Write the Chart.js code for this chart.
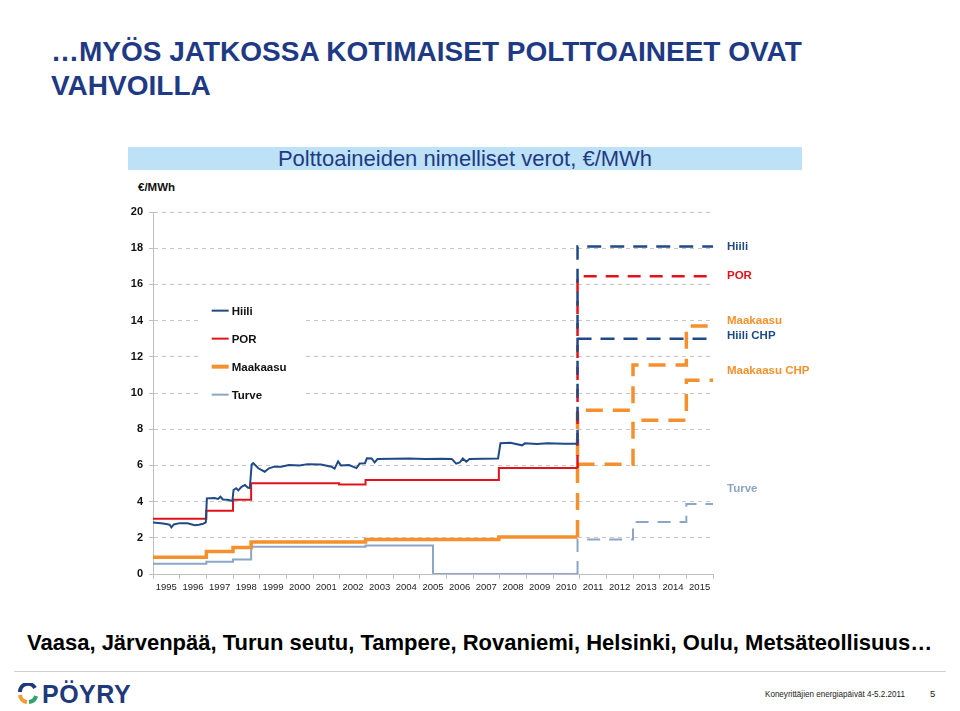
<!DOCTYPE html>
<html>
<head>
<meta charset="utf-8">
<script src="https://cdn.jsdelivr.net/npm/chart.js@4.4.1/dist/chart.umd.min.js"></script>
<style>
  body { margin: 0; width: 960px; height: 711px; background: #fff; position: relative; overflow: hidden;
         font-family: "Liberation Sans", Arial, sans-serif; }
  .title { position: absolute; left: 51px; top: 35px; font-size: 28px; font-weight: bold; color: #1F3A84; line-height: 34px; }
  .boxtitle { position: absolute; left: 128px; top: 147px; width: 674px; height: 23px; background: #BDE1F7;
              color: #1F3A84; font-size: 22px; text-align: center; line-height: 24px; }
  .unit { position: absolute; left: 138px; top: 181px; font-size: 11.5px; font-weight: bold; color: #111; }
  #wrap { position: absolute; left: 100px; top: 195px; width: 740px; height: 420px; }
  .cities { position: absolute; left: 27px; top: 630px; font-size: 22px; font-weight: bold; color: #000; white-space: nowrap; }
  .rule { position: absolute; left: 14px; top: 671px; width: 932px; height: 1px; background: #d0d0d0; }
  .logo { position: absolute; left: 17px; top: 683px; }
  .logotext { position: absolute; left: 42px; top: 680px; font-size: 25px; font-weight: bold; color: #1F3A7A; letter-spacing: 0.5px; }
  .foot { position: absolute; left: 765px; top: 688px; font-size: 9.5px; color: #222; white-space: nowrap;
          transform: scaleX(0.85); transform-origin: left top; }
  .page { position: absolute; left: 930px; top: 688px; font-size: 9.5px; color: #222; }
</style>
</head>
<body>
<div class="title">…MYÖS JATKOSSA KOTIMAISET POLTTOAINEET OVAT<br>VAHVOILLA</div>
<div class="boxtitle">Polttoaineiden nimelliset verot, €/MWh</div>
<div class="unit">€/MWh</div>
<div id="wrap"><canvas id="myChart"></canvas></div>
<div class="cities">Vaasa, Järvenpää, Turun seutu, Tampere, Rovaniemi, Helsinki, Oulu, Metsäteollisuus…</div>
<div class="rule"></div>
<svg class="logo" width="22" height="22" viewBox="0 0 22 22">
  <path d="M18 5 A8 8 0 0 0 3 9" stroke="#1F3A7A" stroke-width="4" fill="none"/>
  <path d="M3 12 A8 8 0 0 0 10 19" stroke="#F39C32" stroke-width="4" fill="none"/>
  <path d="M12 19 A8 8 0 0 0 19 13" stroke="#2FA36B" stroke-width="4" fill="none"/>
</svg>
<div class="logotext">PÖYRY</div>
<div class="foot">Koneyrittäjien energiapäivät 4-5.2.2011</div>
<div class="page">5</div>

<script>
// history, weekly-ish readings of the coal tax (Hiili)
const hiiliYears = [1995.00, 1995.30, 1995.50, 1995.62, 1995.69, 1995.78, 1996.00, 1996.30, 1996.56, 1996.72, 1996.88, 1996.98,
  1997.02, 1997.30, 1997.44, 1997.53, 1997.62, 1997.80, 1997.94, 1997.98,
  1998.02, 1998.12, 1998.20, 1998.32, 1998.45, 1998.55, 1998.63,
  1998.70, 1998.76, 1998.95, 1999.19, 1999.35, 1999.55, 1999.80, 2000.10, 2000.50, 2000.80, 2001.30, 2001.69, 2001.81, 2001.94,
  2002.05, 2002.35, 2002.63, 2002.75, 2002.95, 2003.02, 2003.20, 2003.31, 2003.42, 2004.00, 2004.60, 2005.20, 2005.80,
  2006.20, 2006.37, 2006.50, 2006.62, 2006.75, 2006.87, 2007.40, 2007.94,
  2008.03, 2008.40, 2008.84, 2008.95, 2009.40, 2009.80, 2010.40, 2010.92];
const hiiliValues = [2.84, 2.80, 2.76, 2.72, 2.58, 2.74, 2.81, 2.80, 2.70, 2.72, 2.78, 2.85,
  4.18, 4.20, 4.15, 4.27, 4.12, 4.10, 4.05, 4.05,
  4.64, 4.74, 4.62, 4.82, 4.92, 4.78, 4.75,
  6.05, 6.13, 5.84, 5.65, 5.84, 5.93, 5.92, 6.02, 6.00, 6.07, 6.05, 5.93, 5.82, 6.22,
  6.00, 6.02, 5.85, 6.10, 6.12, 6.39, 6.38, 6.16, 6.35, 6.37, 6.38, 6.36, 6.37,
  6.36, 6.10, 6.16, 6.38, 6.20, 6.35, 6.37, 6.38,
  7.22, 7.25, 7.11, 7.22, 7.18, 7.22, 7.20, 7.20];

// step series (value holds from the given year on)
const porYears = [1995, 1997.0, 1998.0, 1998.68, 2001.98, 2002.97, 2007.97, 2010.92];
const porValues = [3.05, 3.5, 4.1, 5.02, 4.95, 5.19, 5.85, 5.85];
const maakaasuYears = [1995, 1997.0, 1998.0, 1998.68, 2002.97, 2007.97, 2010.92];
const maakaasuValues = [0.93, 1.25, 1.47, 1.77, 1.9, 2.05, 2.05];
const turveYears = [1995, 1997.0, 1998.0, 1998.68, 2002.97, 2005.5, 2010.92];
const turveValues = [0.56, 0.67, 0.8, 1.5, 1.58, 0, 0];

// projections from 2011
const hiiliProjYears = [2010.92, 2010.92, 2016];
const hiiliProjValues = [7.2, 18.1, 18.1];
const hiiliChpYears = [2010.92, 2016];
const hiiliChpValues = [13.0, 13.0];
const porProjYears = [2010.92, 2010.92, 2016];
const porProjValues = [5.85, 16.45, 16.45];
const maakaasuProjYears = [2010.92, 2010.92, 2013, 2015, 2016];
const maakaasuProjValues = [2.05, 9.05, 11.55, 13.7, 13.7];
const maakaasuChpYears = [2010.92, 2013, 2015, 2016];
const maakaasuChpValues = [6.06, 8.5, 10.7, 10.7];
const turveProjYears = [2010.92, 2010.92, 2013, 2015, 2016];
const turveProjValues = [0, 1.9, 2.87, 3.87, 3.87];

const legendItems = ['Hiili', 'POR', 'Maakaasu', 'Turve'];
const endLabels = ['Hiili', 'POR', 'Maakaasu', 'Hiili CHP', 'Maakaasu CHP', 'Turve'];
const endLabelValues = [18.1, 16.45, 14.0, 13.17, 11.2, 4.7];

const NAVY = '#1F4A86', RED = '#E2121B', ORANGE = '#F4902E', TURVE = '#8BA6C6';
const endLabelColors = [NAVY, RED, ORANGE, NAVY, ORANGE, TURVE];
const legendColors = [NAVY, RED, ORANGE, TURVE];
const legendWidths = [2, 2, 4, 2];

function pts(xs, ys) { return xs.map((x, i) => ({ x: x, y: ys[i] })); }

function solid(label, xs, ys, color, w, stepped) {
  return { label: label, data: pts(xs, ys), borderColor: color, borderWidth: w, pointRadius: 0,
           stepped: stepped ? 'before' : false, tension: 0, fill: false };
}
function dashed(label, xs, ys, color, w, dash, stepped) {
  const d = solid(label, xs, ys, color, w, stepped);
  d.borderDash = dash;
  return d;
}

const overlayPlugin = {
  id: 'overlay',
  beforeDatasetsDraw(chart) {
    const c = chart.ctx, y = chart.scales.y, x = chart.scales.x;
    // in-plot legend box
    c.save();
    c.fillStyle = '#fff';
    c.fillRect(x.getPixelForValue(1996.75), y.getPixelForValue(15.0), 103, 110);
    c.font = 'bold 11.5px "Liberation Sans", Arial, sans-serif';
    c.textBaseline = 'middle';
    legendItems.forEach((t, i) => {
      const py = y.getPixelForValue(14.55) + i * 28;
      const px = x.getPixelForValue(1997.2);
      c.strokeStyle = legendColors[i];
      c.lineWidth = legendWidths[i];
      c.beginPath(); c.moveTo(px, py); c.lineTo(px + 17, py); c.stroke();
      c.fillStyle = '#111';
      c.fillText(t, px + 20, py + 1);
    });
    c.restore();
  },
  afterDraw(chart) {
    const c = chart.ctx, y = chart.scales.y, a = chart.chartArea;
    c.save();
    c.font = 'bold 11.5px "Liberation Sans", Arial, sans-serif';
    c.textBaseline = 'middle';
    endLabels.forEach((t, i) => {
      c.fillStyle = endLabelColors[i];
      c.fillText(t, a.right + 14, y.getPixelForValue(endLabelValues[i]));
    });
    c.restore();
  }
};

const ctx = document.getElementById('myChart');

new Chart(ctx, {
  type: 'line',
  data: {
    datasets: [
      solid('Hiili', hiiliYears, hiiliValues, NAVY, 2, false),
      solid('POR', porYears, porValues, RED, 2, true),
      solid('Maakaasu', maakaasuYears, maakaasuValues, ORANGE, 3.5, true),
      solid('Turve', turveYears, turveValues, TURVE, 2, true),
      dashed('Hiili', hiiliProjYears, hiiliProjValues, NAVY, 2.5, [14, 9], false),
      dashed('Hiili CHP', hiiliChpYears, hiiliChpValues, NAVY, 2.5, [14, 9], false),
      dashed('POR', porProjYears, porProjValues, RED, 2.5, [13, 9], false),
      dashed('Maakaasu', maakaasuProjYears, maakaasuProjValues, ORANGE, 3.5, [17, 10], true),
      dashed('Maakaasu CHP', maakaasuChpYears, maakaasuChpValues, ORANGE, 3.5, [17, 10], true),
      dashed('Turve', turveProjYears, turveProjValues, TURVE, 2, [13, 9], true)
    ]
  },
  options: {
    responsive: true,
    maintainAspectRatio: false,
    animation: false,
    layout: { padding: { left: 0, right: 127, top: 17, bottom: 11 } },
    plugins: {
      legend: { display: false },
      tooltip: { enabled: false }
    },
    scales: {
      x: {
        type: 'linear',
        min: 1995,
        max: 2016,
        afterFit: s => { s.height = 30; },
        grid: { drawOnChartArea: false, color: '#BFBFBF', tickLength: 5 },
        border: { color: '#BFBFBF' },
        ticks: {
          stepSize: 1,
          autoSkip: false,
          maxRotation: 0,
          labelOffset: 13.3,
          padding: 3,
          color: '#222',
          font: { family: '"Liberation Sans", Arial, sans-serif', size: 9.5 },
          callback: v => (v === 2016 ? '' : String(v))
        }
      },
      y: {
        min: 0,
        max: 20,
        afterFit: s => { s.width = 53; },
        grid: { color: '#C8C8C8', tickLength: 4, tickBorderDash: [], tickColor: '#BFBFBF' },
        border: { color: '#BFBFBF', dash: [4, 4] },
        ticks: {
          stepSize: 2,
          padding: 6,
          color: '#111',
          font: { family: '"Liberation Sans", Arial, sans-serif', size: 11, weight: 'bold' }
        }
      }
    }
  },
  plugins: [overlayPlugin]
});
</script>
</body>
</html>
